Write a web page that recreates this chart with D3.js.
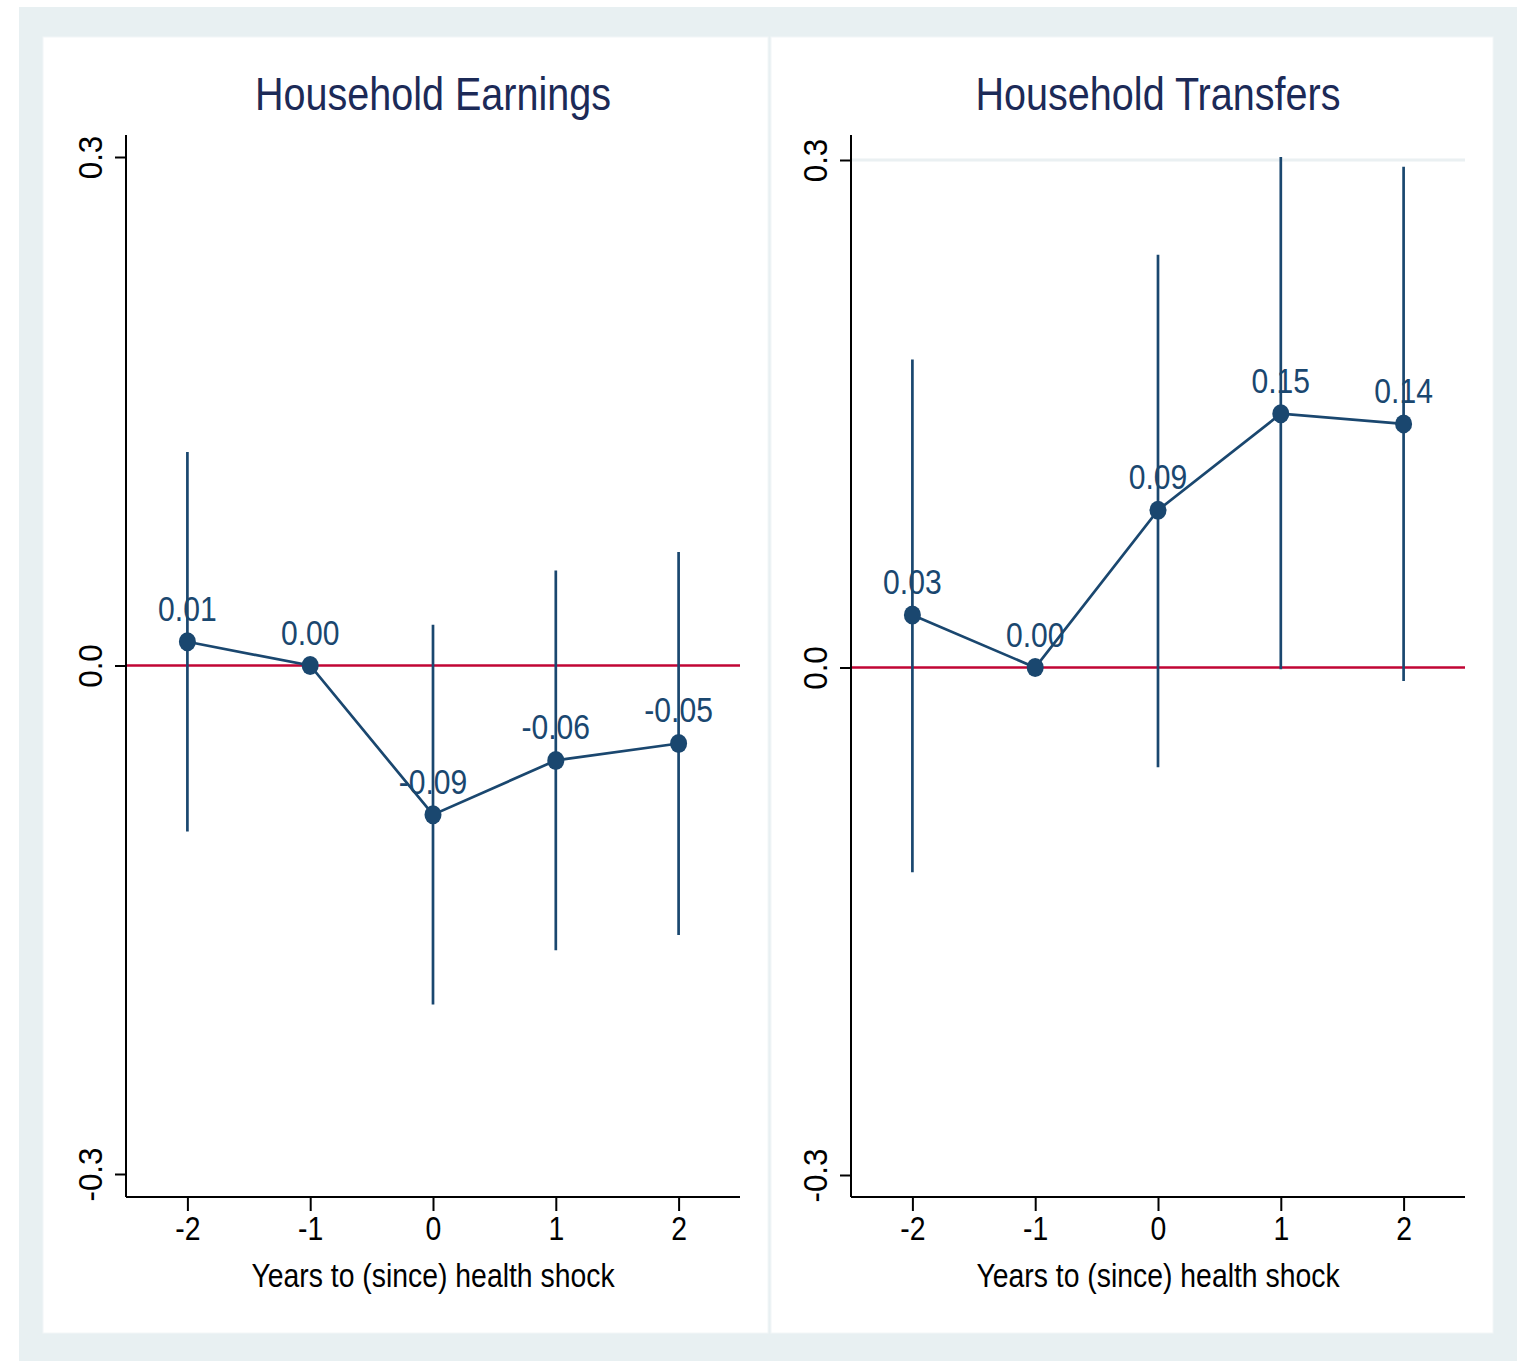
<!DOCTYPE html>
<html>
<head>
<meta charset="utf-8">
<script src="https://cdn.jsdelivr.net/npm/d3@7"></script>
<style>
  body { margin: 0; background: #ffffff; }
  text { font-family: "Liberation Sans", Arial, sans-serif; }
</style>
</head>
<body>
<div id="chart"></div>
<script>
// years relative to health shock
var years = [-2, -1, 0, 1, 2];

// Household Earnings
var earnCoef  = [0.014, 0.000, -0.088, -0.056, -0.046];
var earnLow   = [-0.098, null, -0.200, -0.168, -0.159];
var earnHigh  = [0.126, null, 0.024, 0.056, 0.067];
var earnLabel = ["0.01", "0.00", "-0.09", "-0.06", "-0.05"];

// Household Transfers
var tranCoef  = [0.031, 0.000, 0.093, 0.150, 0.144];
var tranLow   = [-0.121, null, -0.059, -0.001, -0.008];
var tranHigh  = [0.182, null, 0.244, 0.302, 0.296];
var tranLabel = ["0.03", "0.00", "0.09", "0.15", "0.14"];

var yTicks = [-0.3, 0, 0.3];
var xTicks = [-2, -1, 0, 1, 2];

var navy = "#1a476f";
var squeeze = 0.86;   // narrow look of the original font

var svg = d3.select("#chart").append("svg")
    .attr("width", 1530)
    .attr("height", 1361);

// outer background
svg.append("rect")
    .attr("x", 19).attr("y", 7)
    .attr("width", 1498).attr("height", 1354)
    .attr("fill", "#e8f0f2");

function narrowText(sel, x, y, size) {
    return sel.append("text")
        .attr("transform", "translate(" + x + "," + y + ") scale(" + squeeze + ",1)")
        .attr("text-anchor", "middle")
        .attr("font-size", size);
}

function panel(opt) {
    var g = svg.append("g");

    g.append("rect")
        .attr("x", opt.px).attr("y", 37)
        .attr("width", opt.pw).attr("height", 1296)
        .attr("fill", "#ffffff")
        .attr("stroke", "#f2f6f7")
        .attr("stroke-width", 1);

    var x = d3.scaleLinear().domain([-2.5, 2.5]).range([opt.left, opt.right]);
    var y = d3.scaleLinear().domain([-0.3, 0.3]).range([opt.y0, opt.y1]);
    var top = 135, bottom = 1197;

    var clipId = "clip" + opt.id;
    g.append("clipPath").attr("id", clipId)
        .append("rect")
        .attr("x", opt.left).attr("y", 157)
        .attr("width", opt.right - opt.left).attr("height", bottom - 157);

    if (opt.grid) {
        g.append("line")
            .attr("x1", opt.left).attr("x2", opt.right)
            .attr("y1", y(0.3)).attr("y2", y(0.3))
            .attr("stroke", "#eaf0f2").attr("stroke-width", 3);
    }

    // title
    narrowText(g, x(0), 110, 46)
        .attr("fill", "#1c2a57")
        .text(opt.title);

    // zero line
    g.append("line")
        .attr("x1", opt.left).attr("x2", opt.right)
        .attr("y1", y(0)).attr("y2", y(0))
        .attr("stroke", "#c10534").attr("stroke-width", 2.5);

    // y axis
    var yAxis = d3.axisLeft(y).tickValues(yTicks).tickSize(11)
        .tickFormat(d3.format(".1f"));
    var ya = g.append("g")
        .attr("transform", "translate(" + opt.left + ",0)")
        .call(yAxis);
    ya.select(".domain").remove();
    ya.append("line")
        .attr("x1", 0).attr("x2", 0).attr("y1", top).attr("y2", bottom)
        .attr("stroke", "#000").attr("stroke-width", 2);
    ya.selectAll(".tick line").attr("stroke", "#000").attr("stroke-width", 2);
    ya.selectAll(".tick text")
        .attr("font-size", 33)
        .attr("fill", "#000")
        .attr("text-anchor", "middle")
        .attr("dy", 0)
        .attr("x", 0).attr("y", 0)
        .attr("transform", "translate(-24,0) rotate(-90) scale(0.95,1)")
        .text(function (d) { return d3.format(".1f")(d).replace("−", "-"); });

    // x axis
    var xAxis = d3.axisBottom(x).tickValues(xTicks).tickSize(14)
        .tickFormat(d3.format("d"));
    var xa = g.append("g")
        .attr("transform", "translate(0," + bottom + ")")
        .call(xAxis);
    xa.select(".domain").remove();
    xa.append("line")
        .attr("x1", opt.left).attr("x2", opt.right).attr("y1", 0).attr("y2", 0)
        .attr("stroke", "#000").attr("stroke-width", 2);
    xa.selectAll(".tick line").attr("stroke", "#000").attr("stroke-width", 2);
    xa.selectAll(".tick text")
        .attr("font-size", 33)
        .attr("fill", "#000")
        .attr("y", 0)
        .attr("dy", 0)
        .attr("transform", "translate(0,43) scale(" + squeeze + ",1)")
        .text(function (d) { return String(d); });

    narrowText(g, x(0), 1287, 33)
        .attr("fill", "#000")
        .text("Years to (since) health shock");

    var rows = years.map(function (yr, i) {
        return { x: yr, c: opt.coef[i], lo: opt.low[i], hi: opt.high[i], lab: opt.label[i] };
    });

    var plot = g.append("g").attr("clip-path", "url(#" + clipId + ")");

    // confidence intervals
    plot.selectAll("line.ci")
        .data(rows.filter(function (d) { return d.lo !== null; }))
        .enter().append("line")
        .attr("class", "ci")
        .attr("x1", function (d) { return x(d.x); })
        .attr("x2", function (d) { return x(d.x); })
        .attr("y1", function (d) { return y(d.lo); })
        .attr("y2", function (d) { return y(d.hi); })
        .attr("stroke", navy).attr("stroke-width", 2.7);

    // connecting line
    var line = d3.line()
        .x(function (d) { return x(d.x); })
        .y(function (d) { return y(d.c); });
    plot.append("path")
        .datum(rows)
        .attr("d", line)
        .attr("fill", "none")
        .attr("stroke", navy).attr("stroke-width", 2.7);

    plot.selectAll("ellipse.pt")
        .data(rows)
        .enter().append("ellipse")
        .attr("class", "pt")
        .attr("cx", function (d) { return x(d.x); })
        .attr("cy", function (d) { return y(d.c); })
        .attr("rx", 8.5).attr("ry", 9.5)
        .attr("fill", navy);

    g.selectAll("text.lab")
        .data(rows)
        .enter().append("text")
        .attr("class", "lab")
        .attr("transform", function (d) {
            return "translate(" + x(d.x) + "," + (y(d.c) - 21) + ") scale(" + squeeze + ",1)";
        })
        .attr("text-anchor", "middle")
        .attr("font-size", 35)
        .attr("fill", navy)
        .text(function (d) { return d.lab; });
}

panel({
    id: 1, px: 43, pw: 725,
    left: 126, right: 740, y0: 1174, y1: 157,
    title: "Household Earnings",
    coef: earnCoef, low: earnLow, high: earnHigh, label: earnLabel,
    grid: false
});

panel({
    id: 2, px: 771, pw: 722,
    left: 851, right: 1465, y0: 1175, y1: 160,
    title: "Household Transfers",
    coef: tranCoef, low: tranLow, high: tranHigh, label: tranLabel,
    grid: true
});
</script>
</body>
</html>
